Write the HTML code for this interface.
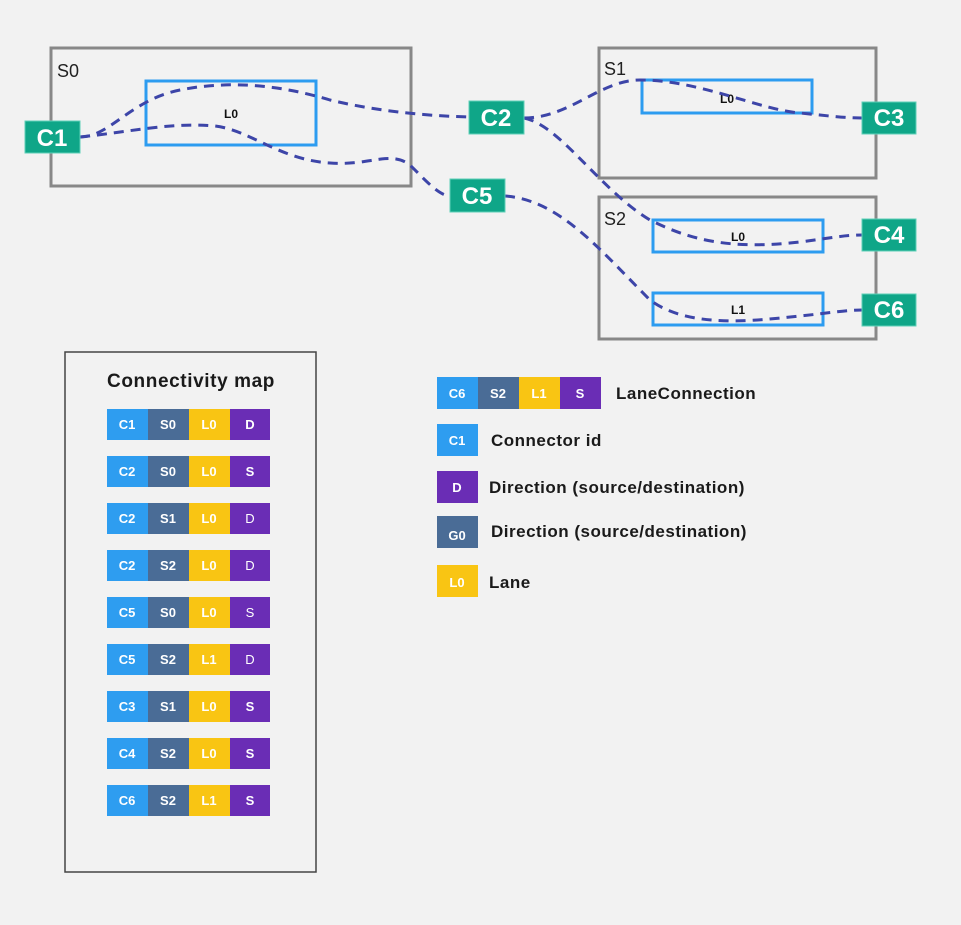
<!DOCTYPE html>
<html><head><meta charset="utf-8"><style>
html,body{margin:0;padding:0;background:#f2f2f2;}
svg{display:block;font-family:"Liberation Sans",sans-serif;}
</style></head><body>
<svg width="961" height="925" viewBox="0 0 961 925" xmlns="http://www.w3.org/2000/svg">
<rect width="961" height="925" fill="#f2f2f2"/>
<g fill="none" stroke="#888" stroke-width="3">
<rect x="51" y="48" width="360" height="138"/>
<rect x="599" y="48" width="277" height="130"/>
<rect x="599" y="197" width="277" height="142"/>
</g>
<g font-size="18" fill="#222">
<text x="57" y="77">S0</text>
<text x="604" y="75">S1</text>
<text x="604" y="225">S2</text>
</g>
<g fill="none" stroke="#2d9cf0" stroke-width="3">
<rect x="146" y="81" width="170" height="64"/>
<rect x="642" y="80" width="170" height="33"/>
<rect x="653" y="220" width="170" height="32"/>
<rect x="653" y="293" width="170" height="32"/>
</g>
<g font-size="12" font-weight="bold" fill="#111" text-anchor="middle">
<text x="231" y="118">L0</text>
<text x="727" y="103">L0</text>
<text x="738" y="241">L0</text>
<text x="738" y="314">L1</text>
</g>
<g fill="none" stroke="#3d45a8" stroke-width="3" stroke-dasharray="10,7">
<path d="M80 137 C110 137 130 100 180 90 C230 80 280 85 330 100 C380 112 430 116 470 117"/>
<path d="M80 137 C130 132 170 122 215 126 C250 130 280 160 330 163 C370 166 390 150 410 165 C430 185 440 196 451 196"/>
<path d="M524 118 C570 118 600 80 640 80 C700 80 760 110 800 113 C830 116 845 118 862 118"/>
<path d="M524 118 C560 125 600 190 650 220 C690 240 730 250 800 242 C830 238 845 235 862 235"/>
<path d="M505 196 C560 200 600 250 650 300 C690 330 760 320 800 316 C830 313 845 310 862 310"/>
</g>
<g fill="#0fa688" stroke="#5fd0b8" stroke-width="1">
<rect x="25" y="121" width="55" height="32"/>
<rect x="469" y="101" width="55" height="33"/>
<rect x="450" y="179" width="55" height="33"/>
<rect x="862" y="102" width="54" height="32"/>
<rect x="862" y="219" width="54" height="32"/>
<rect x="862" y="294" width="54" height="32"/>
</g>
<g font-size="24" font-weight="bold" fill="#fff" text-anchor="middle">
<text x="52" y="146">C1</text>
<text x="496" y="126">C2</text>
<text x="477" y="204">C5</text>
<text x="889" y="126">C3</text>
<text x="889" y="243">C4</text>
<text x="889" y="318">C6</text>
</g>
<rect x="65" y="352" width="251" height="520" fill="none" stroke="#444" stroke-width="1.5"/>
<text x="191" y="387" font-size="19" font-weight="bold" fill="#1a1a1a" text-anchor="middle" letter-spacing="0.6">Connectivity map</text>
<g font-size="13" font-weight="bold" fill="#fff" text-anchor="middle">
<g transform="translate(107,409)"><rect width="41" height="31" fill="#2e9df0"/><rect x="41" width="41" height="31" fill="#4a6c96"/><rect x="82" width="41" height="31" fill="#f9c513"/><rect x="123" width="40" height="31" fill="#6a2db5"/><text x="20" y="20">C1</text><text x="61" y="20">S0</text><text x="102" y="20">L0</text><text x="143" y="20">D</text></g>
<g transform="translate(107,456)"><rect width="41" height="31" fill="#2e9df0"/><rect x="41" width="41" height="31" fill="#4a6c96"/><rect x="82" width="41" height="31" fill="#f9c513"/><rect x="123" width="40" height="31" fill="#6a2db5"/><text x="20" y="20">C2</text><text x="61" y="20">S0</text><text x="102" y="20">L0</text><text x="143" y="20">S</text></g>
<g transform="translate(107,503)"><rect width="41" height="31" fill="#2e9df0"/><rect x="41" width="41" height="31" fill="#4a6c96"/><rect x="82" width="41" height="31" fill="#f9c513"/><rect x="123" width="40" height="31" fill="#6a2db5"/><text x="20" y="20">C2</text><text x="61" y="20">S1</text><text x="102" y="20">L0</text><text x="143" y="20" font-weight="normal">D</text></g>
<g transform="translate(107,550)"><rect width="41" height="31" fill="#2e9df0"/><rect x="41" width="41" height="31" fill="#4a6c96"/><rect x="82" width="41" height="31" fill="#f9c513"/><rect x="123" width="40" height="31" fill="#6a2db5"/><text x="20" y="20">C2</text><text x="61" y="20">S2</text><text x="102" y="20">L0</text><text x="143" y="20" font-weight="normal">D</text></g>
<g transform="translate(107,597)"><rect width="41" height="31" fill="#2e9df0"/><rect x="41" width="41" height="31" fill="#4a6c96"/><rect x="82" width="41" height="31" fill="#f9c513"/><rect x="123" width="40" height="31" fill="#6a2db5"/><text x="20" y="20">C5</text><text x="61" y="20">S0</text><text x="102" y="20">L0</text><text x="143" y="20" font-weight="normal">S</text></g>
<g transform="translate(107,644)"><rect width="41" height="31" fill="#2e9df0"/><rect x="41" width="41" height="31" fill="#4a6c96"/><rect x="82" width="41" height="31" fill="#f9c513"/><rect x="123" width="40" height="31" fill="#6a2db5"/><text x="20" y="20">C5</text><text x="61" y="20">S2</text><text x="102" y="20">L1</text><text x="143" y="20" font-weight="normal">D</text></g>
<g transform="translate(107,691)"><rect width="41" height="31" fill="#2e9df0"/><rect x="41" width="41" height="31" fill="#4a6c96"/><rect x="82" width="41" height="31" fill="#f9c513"/><rect x="123" width="40" height="31" fill="#6a2db5"/><text x="20" y="20">C3</text><text x="61" y="20">S1</text><text x="102" y="20">L0</text><text x="143" y="20">S</text></g>
<g transform="translate(107,738)"><rect width="41" height="31" fill="#2e9df0"/><rect x="41" width="41" height="31" fill="#4a6c96"/><rect x="82" width="41" height="31" fill="#f9c513"/><rect x="123" width="40" height="31" fill="#6a2db5"/><text x="20" y="20">C4</text><text x="61" y="20">S2</text><text x="102" y="20">L0</text><text x="143" y="20">S</text></g>
<g transform="translate(107,785)"><rect width="41" height="31" fill="#2e9df0"/><rect x="41" width="41" height="31" fill="#4a6c96"/><rect x="82" width="41" height="31" fill="#f9c513"/><rect x="123" width="40" height="31" fill="#6a2db5"/><text x="20" y="20">C6</text><text x="61" y="20">S2</text><text x="102" y="20">L1</text><text x="143" y="20">S</text></g>
<g transform="translate(437,377)"><rect width="41" height="32" fill="#2e9df0"/><rect x="41" width="41" height="32" fill="#4a6c96"/><rect x="82" width="41" height="32" fill="#f9c513"/><rect x="123" width="41" height="32" fill="#6a2db5"/><text x="20" y="21">C6</text><text x="61" y="21">S2</text><text x="102" y="21">L1</text><text x="143" y="21">S</text></g>
<rect x="437" y="424" width="41" height="32" fill="#2e9df0"/><text x="457" y="445">C1</text>
<rect x="437" y="471" width="41" height="32" fill="#6a2db5"/><text x="457" y="492">D</text>
<rect x="437" y="516" width="41" height="32" fill="#4a6c96"/><text x="457" y="540">G0</text>
<rect x="437" y="565" width="41" height="32" fill="#f9c513"/><text x="457" y="587">L0</text>
</g>
<g font-size="17" font-weight="bold" fill="#1a1a1a" letter-spacing="0.5">
<text x="616" y="399">LaneConnection</text>
<text x="491" y="446">Connector id</text>
<text x="489" y="493">Direction (source/destination)</text>
<text x="491" y="537">Direction (source/destination)</text>
<text x="489" y="588">Lane</text>
</g>
</svg>
</body></html>
